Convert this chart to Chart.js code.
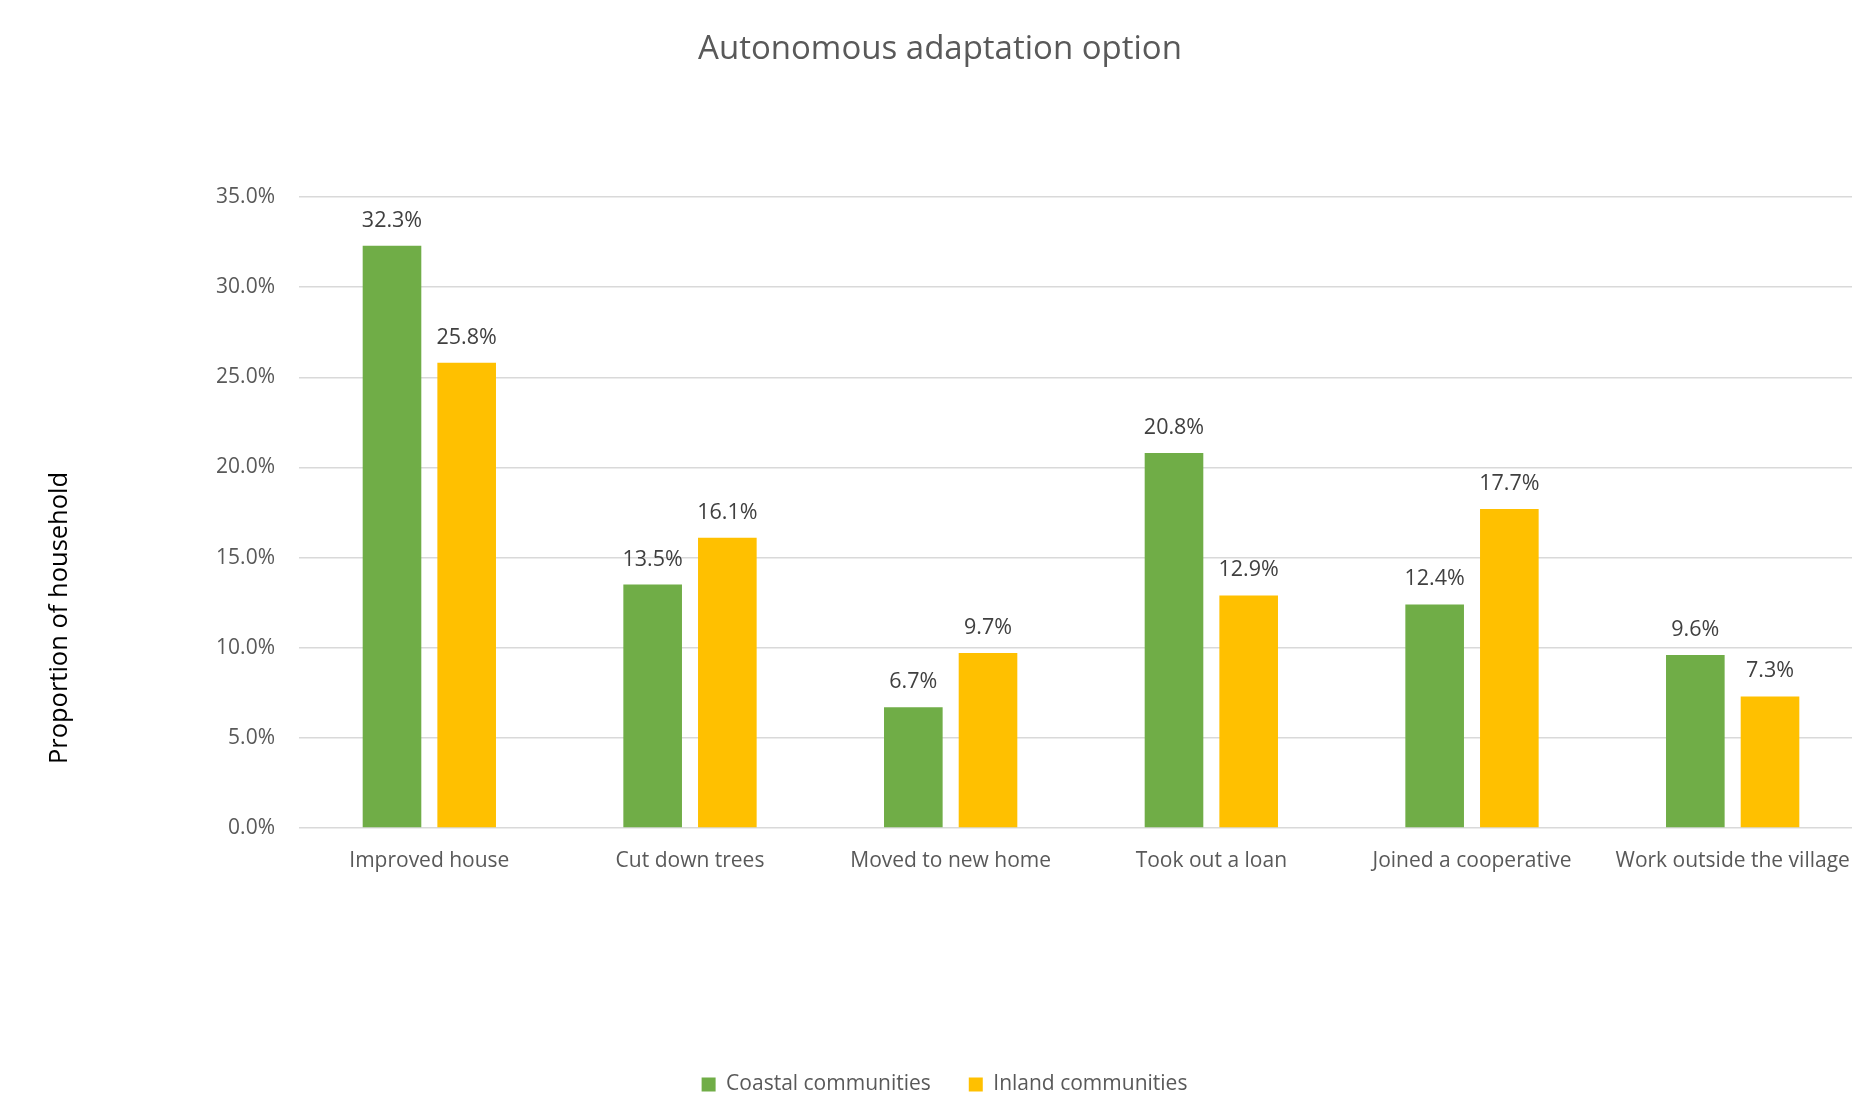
<!DOCTYPE html>
<html lang="en">
<head>
<meta charset="UTF-8">
<title>Autonomous adaptation option</title>
<script src="https://cdn.jsdelivr.net/npm/chart.js"></script>
<style>
  html, body { margin: 0; padding: 0; background: #fff; overflow: hidden; }
  #frame { width: 1852px; height: 1100px; overflow: hidden; position: relative; }
  #wrap { width: 1880px; height: 1100px; position: absolute; left: 0; top: 0; }
</style>
</head>
<body>
<div id="frame">
  <div id="wrap"><canvas id="chart"></canvas></div>
</div>

<script>
// data
const categories = ["Improved house", "Cut down trees", "Moved to new home", "Took out a loan", "Joined a cooperative", "Work outside the village"];
const coastal = [32.3, 13.5, 6.7, 20.8, 12.4, 9.6];
const inland = [25.8, 16.1, 9.7, 12.9, 17.7, 7.3];
const yTicks = [0, 5, 10, 15, 20, 25, 30, 35];

const FONT = "'Open Sans', 'Noto Sans', sans-serif";

// title + y axis title + value labels
const extras = {
  id: "extras",
  afterDatasetsDraw(chart) {
    const ctx = chart.ctx;
    ctx.save();
    // value labels above bars
    ctx.font = "21.5px " + FONT;
    ctx.fillStyle = "#404040";
    ctx.textAlign = "center";
    ctx.textBaseline = "alphabetic";
    chart.data.datasets.forEach((ds, i) => {
      chart.getDatasetMeta(i).data.forEach((bar, j) => {
        ctx.fillText(ds.data[j].toFixed(1) + "%", bar.x, bar.y - 19);
      });
    });
    // chart title
    ctx.font = "33px " + FONT;
    ctx.fillStyle = "#595959";
    ctx.fillText("Autonomous adaptation option", 940, 59);
    // y axis title
    ctx.translate(67, 618);
    ctx.rotate(-Math.PI / 2);
    ctx.font = "25.5px " + FONT;
    ctx.fillStyle = "#000000";
    ctx.fillText("Proportion of household", 0, 0);
    ctx.restore();
  }
};

new Chart(document.getElementById("chart"), {
  type: "bar",
  data: {
    labels: categories,
    datasets: [
      { label: "Coastal communities", data: coastal, backgroundColor: "#70AD47" },
      { label: "Inland communities", data: inland, backgroundColor: "#FFC000" }
    ]
  },
  options: {
    responsive: true,
    maintainAspectRatio: false,
    animation: false,
    categoryPercentage: 0.573,
    barPercentage: 0.785,
    layout: { padding: { top: 197, left: 26, right: 17, bottom: -5 } },
    plugins: {
      title: { display: false },
      tooltip: { enabled: false },
      legend: {
        position: "bottom",
        labels: {
          boxWidth: 14,
          boxHeight: 14,
          padding: 38,
          color: "#595959",
          font: { family: FONT, size: 21 }
        }
      }
    },
    scales: {
      x: {
        grid: { display: false },
        border: { display: false },
        ticks: { color: "#595959", padding: 12, maxRotation: 0, font: { family: FONT, size: 21 } },
        afterFit(scale) { scale.height = 208; }
      },
      y: {
        min: 0,
        max: 35,
        afterBuildTicks(scale) { scale.ticks = yTicks.map(v => ({ value: v })); },
        grid: { color: "#D9D9D9", lineWidth: 1.5, drawTicks: false },
        border: { display: false },
        ticks: {
          color: "#595959",
          padding: 24,
          font: { family: FONT, size: 21 },
          callback: v => v.toFixed(1) + "%"
        },
        afterFit(scale) { scale.width = 273; }
      }
    }
  },
  plugins: [extras]
});
</script>
</body>
</html>
